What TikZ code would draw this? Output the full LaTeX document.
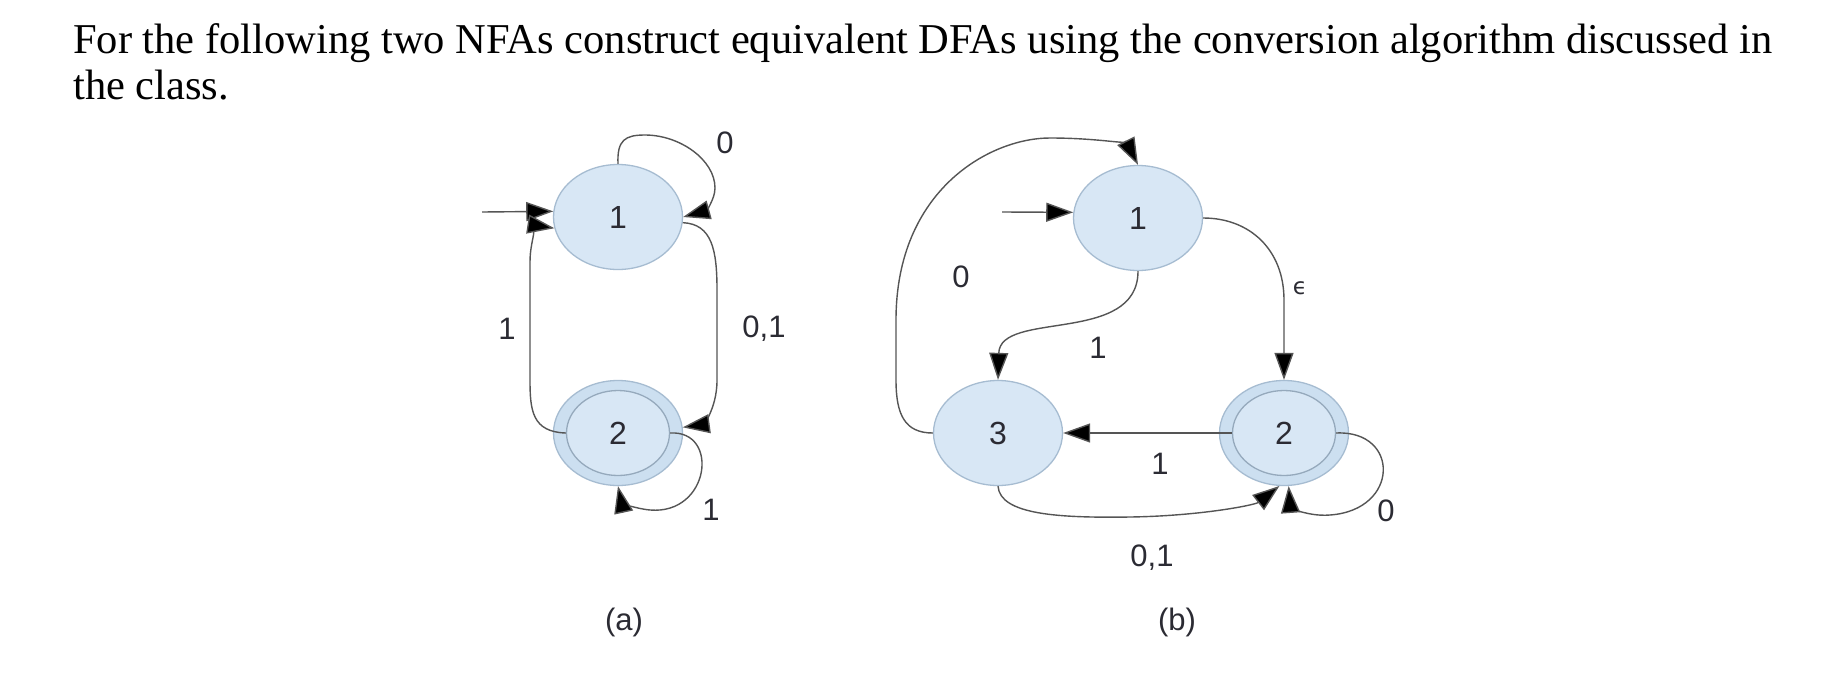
\documentclass[tikz,border=0pt]{standalone}
\usepackage{fontspec}
\setmainfont{Liberation Serif}
\newfontfamily\lsans{Liberation Sans}
\newfontfamily\dejavu{DejaVu Sans}
\usetikzlibrary{shapes.geometric,arrows.meta}
\definecolor{stfill}{HTML}{D8E7F5}
\definecolor{ringfill}{HTML}{CCDFF0}
\definecolor{stdraw}{HTML}{A6BCD1}
\definecolor{edgec}{HTML}{555555}
\definecolor{labc}{HTML}{2B2B33}
\tikzset{
  state/.style={ellipse,draw=stdraw,fill=stfill,line width=1.3pt,minimum width=129pt,minimum height=105pt,inner sep=0pt,text=labc,font=\lsans\fontsize{32}{32}\selectfont},
  ring/.style={ellipse,draw=stdraw,fill=ringfill,line width=1.3pt,minimum width=129pt,minimum height=105pt,inner sep=0pt},
  inner/.style={ellipse,draw=stdraw!90!black,fill=stfill,line width=1.3pt,minimum width=103pt,minimum height=85pt,inner sep=0pt,text=labc,font=\lsans\fontsize{32}{32}\selectfont},
  edge/.style={draw=edgec,line width=1.4pt,-{Triangle[length=27pt,width=19pt,fill=black]}},
  lab/.style={text=labc,font=\lsans\fontsize{31}{31}\selectfont,inner sep=0pt},
  title/.style={anchor=base west,inner sep=0pt,font=\fontsize{42.5}{46}\selectfont}
}
\begin{document}
\begin{tikzpicture}[x=1pt,y=-1pt]
\useasboundingbox (0,0) rectangle (1828,678);
\fill[white] (0,0) rectangle (1828,678);
\node[title] (t1) at (73,53) {For the following two NFAs construct equivalent DFAs using the conversion algorithm discussed in};
\node[title] (t2) at (73,99) {the class.};
% ---------- (a) ----------
\node[state] (s1a) at (618,217) {1};
\node[ring] (s2a) at (618,433) {};
\node[inner] (s2ai) at (618,433) {2};
\coordinate (ia) at (482,212);
\draw[edge] (ia) -- (s1a.175);
\draw[edge] (s1a.north) .. controls (617,140) and (625,135) .. (645,135)
  .. controls (680,135) and (715,160) .. (715,188)
  .. controls (715,200) and (705,211) .. (s1a.east);
\draw[edge] (s1a.-5) .. controls (712,224) and (717,250) .. (717,290) -- (717,380)
  .. controls (717,412) and (700,425) .. (s2a.5);
\draw[edge] (s2ai.west) .. controls (532,432) and (530,410) .. (530,380) -- (530,262)
  .. controls (530,238) and (540,226) .. (s1a.190);
\draw[edge] (s2ai.east) .. controls (720,430) and (710,515) .. (650,510)
  .. controls (630,508) and (621,500) .. (s2a.south);
\node[lab] (la0) at (725,143) {0};
\node[lab] (la1) at (507,329) {1};
\node[lab] (la01) at (764,329) {0,1};
\node[lab] (la1b) at (711,510) {1};
\node[lab] (capa) at (624,622) {(a)};
% ---------- (b) ----------
\node[state] (s1b) at (1138,218) {1};
\node[state] (s3b) at (998,433) {3};
\node[ring] (s2b) at (1284,433) {};
\node[inner] (s2bi) at (1284,433) {2};
\coordinate (ib) at (1002,212);
\draw[edge] (ib) -- (s1b.175);
\draw[edge] (s3b.west) .. controls (905,433) and (896,415) .. (896,380) -- (896,320)
  .. controls (896,190) and (990,138) .. (1050,138)
  .. controls (1100,138) and (1128,145) .. (s1b.north);
\draw[edge] (s1b.east) .. controls (1250,218) and (1284,250) .. (1284,300) -- (s2b.north);
\draw[edge] (s1b.south) .. controls (1138,345) and (1000,310) .. (s3b.north);
\draw[edge] (s2bi.west) -- (s3b.east);
\draw[edge] (s3b.south) .. controls (1000,515) and (1060,518) .. (1130,517)
  .. controls (1200,516) and (1255,505) .. (s2b.265);
\draw[edge] (s2bi.east) .. controls (1400,430) and (1400,510) .. (1330,515)
  .. controls (1305,517) and (1290,505) .. (s2b.275);
\node[lab] (lb0) at (961,277) {0};
\node[lab,font=\dejavu\fontsize{23}{23}\selectfont] (lbe) at (1300,288) {ϵ};
\node[lab] (lb1) at (1098,348) {1};
\node[lab] (lb1b) at (1160,464) {1};
\node[lab] (lb01) at (1152,558) {0,1};
\node[lab] (lb0b) at (1386,511) {0};
\node[lab] (capb) at (1177,622) {(b)};
\end{tikzpicture}
\end{document}
